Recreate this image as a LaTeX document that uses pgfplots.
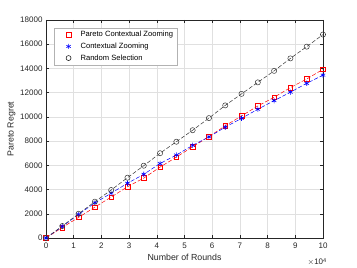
\documentclass[border=0pt]{standalone}
\usepackage{fontspec}
\setmainfont{Liberation Sans}
\usepackage{pgfplots}
\pgfplotsset{compat=1.18}
\definecolor{axgray}{gray}{0.15}
\definecolor{gridgray}{gray}{0.88}
\begin{document}
\begin{tikzpicture}
\useasboundingbox (-46bp,-30bp) rectangle (311bp,238bp);
\begin{axis}[
  at={(0,0)}, anchor=south west,
  scale only axis, width=277bp, height=218bp,
  xmin=0, xmax=10, ymin=0, ymax=18000,
  xtick={0,1,...,10}, ytick={0,2000,...,18000},
  /pgf/number format/assume math mode=true,
  /pgf/number format/set thousands separator={},
  scaled y ticks=false,
  tick align=inside, major tick length=2.8bp,
  axis line style={axgray, line width=0.5bp},
  every tick/.style={axgray, line width=0.5bp},
  grid=major, major grid style={gridgray, line width=0.5bp},
  ticklabel style={font=\fontsize{8bp}{9bp}\selectfont, text=axgray},
  xticklabel style={yshift=-1bp},
  label style={font=\fontsize{8.8bp}{10bp}\selectfont, text=axgray},
  xlabel={Number of Rounds},
  ylabel={Pareto Regret},
  xlabel style={yshift=1bp},
  ylabel style={yshift=-2bp},
  legend style={at={(axis description cs:0.03,0.965)}, anchor=north west,
    draw=gray!60, line width=0.5bp, fill=white,
    font=\fontsize{7.6bp}{9bp}\selectfont, text=black,
    row sep=0.6bp, inner xsep=2bp, inner ysep=1.5bp},
  legend cell align=left,
  legend image code/.code={\path[draw=none, fill=none] (0,0) rectangle (22bp,0); \draw[#1] plot coordinates {(12bp,0)};},
]
\addlegendimage{only marks, red, mark=square, mark size=2.2bp, line width=0.5bp}
\addlegendentry{Pareto Contextual Zooming}
\addlegendimage{only marks, blue, mark=asterisk, mark size=2.5bp, line width=0.6bp}
\addlegendentry{Contextual Zooming}
\addlegendimage{only marks, black, mark=o, mark size=2.5bp, line width=0.5bp}
\addlegendentry{Random Selection}

\addplot[forget plot, red, dash pattern=on 4bp off 2bp, line width=0.5bp, mark=square, mark size=2.3bp, mark options={solid}] coordinates {
(0,0) (0.5882,870) (1.1765,1700) (1.7647,2550) (2.3529,3380) (2.9412,4230)
(3.5294,4950) (4.1176,5850) (4.7059,6680) (5.2941,7530) (5.8824,8370)
(6.4706,9270) (7.0588,10080) (7.6471,10900) (8.2353,11620) (8.8235,12420)
(9.4118,13130) (10,13930)};
\addplot[forget plot, blue, dash pattern=on 4bp off 2bp, line width=0.5bp, mark=asterisk, mark size=2.6bp, mark options={solid, line width=0.6bp}] coordinates {
(0,0) (0.5882,950) (1.1765,1950) (1.7647,2900) (2.3529,3700) (2.9412,4520)
(3.5294,5260) (4.1176,6150) (4.7059,6850) (5.2941,7650) (5.8824,8350)
(6.4706,9150) (7.0588,9880) (7.6471,10630) (8.2353,11340) (8.8235,12040)
(9.4118,12770) (10,13450)};
\addplot[forget plot, black!80, dash pattern=on 4bp off 2bp, line width=0.5bp, mark=o, mark size=2.6bp, mark options={solid}] coordinates {
(0,0) (0.5882,990) (1.1765,2000) (1.7647,3000) (2.3529,3960) (2.9412,4980)
(3.5294,5970) (4.1176,7000) (4.7059,7950) (5.2941,8900) (5.8824,9900)
(6.4706,10950) (7.0588,11900) (7.6471,12850) (8.2353,13800) (8.8235,14830)
(9.4118,15800) (10,16800)};
\end{axis}
\node[anchor=north east, text=axgray, font=\fontsize{8bp}{9bp}\selectfont, inner sep=0pt]
  at (281bp,-20bp) {$\times$10\textsuperscript{4}};
\end{tikzpicture}
\end{document}
